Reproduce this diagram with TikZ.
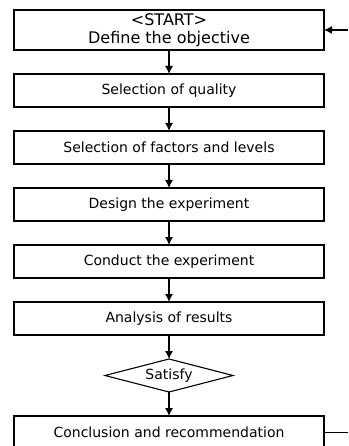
\documentclass[tikz,border=0pt]{standalone}
\usepackage{fontspec}
\setmainfont{DejaVu Sans}
\usetikzlibrary{arrows.meta, positioning, shapes.geometric}

\begin{document}
\begin{tikzpicture}[
  x=1pt, y=1pt,
  line width=1.1pt,
  block/.style={rectangle, draw, minimum width=310pt, minimum height=33pt, inner sep=0pt, outer sep=0pt, font=\fontsize{14}{16}\selectfont},
  decision/.style={diamond, draw, aspect=4, minimum width=128pt, minimum height=33pt, inner sep=0pt, outer sep=0pt, font=\fontsize{14}{16}\selectfont},
  edge/.style={-{Latex[length=8pt, width=8pt]}},
  node distance=24pt
]
\useasboundingbox (0,0) rectangle (348,-446);
\clip (0,0) rectangle (348,-446);

\node[block, minimum height=40pt, align=center, font=\fontsize{16}{18}\selectfont] (define) at (169,-30) {<START>\\Define the objective};
\node[block, below=of define] (quality) {Selection of quality};
\node[block, below=of quality] (factors) {Selection of factors and levels};
\node[block, below=of factors] (design) {Design the experiment};
\node[block, below=of design] (conduct) {Conduct the experiment};
\node[block, below=of conduct] (analysis) {Analysis of results};
\node[decision, below=of analysis] (satisfy) {Satisfy};
\node[block, below=of satisfy] (conclusion) {Conclusion and recommendation};

\draw[edge] (define) -- (quality);
\draw[edge] (quality) -- (factors);
\draw[edge] (factors) -- (design);
\draw[edge] (design) -- (conduct);
\draw[edge] (conduct) -- (analysis);
\draw[edge] (analysis) -- (satisfy);
\draw[edge] (satisfy) -- (conclusion);

% feedback line, leaves the frame on the right
\coordinate (backin) at (348,-30);
\coordinate (backout) at (348,-432.5);
\draw[edge] (backin) -- (define.east);
\draw (conclusion.east) -- (backout);
\end{tikzpicture}
\end{document}
